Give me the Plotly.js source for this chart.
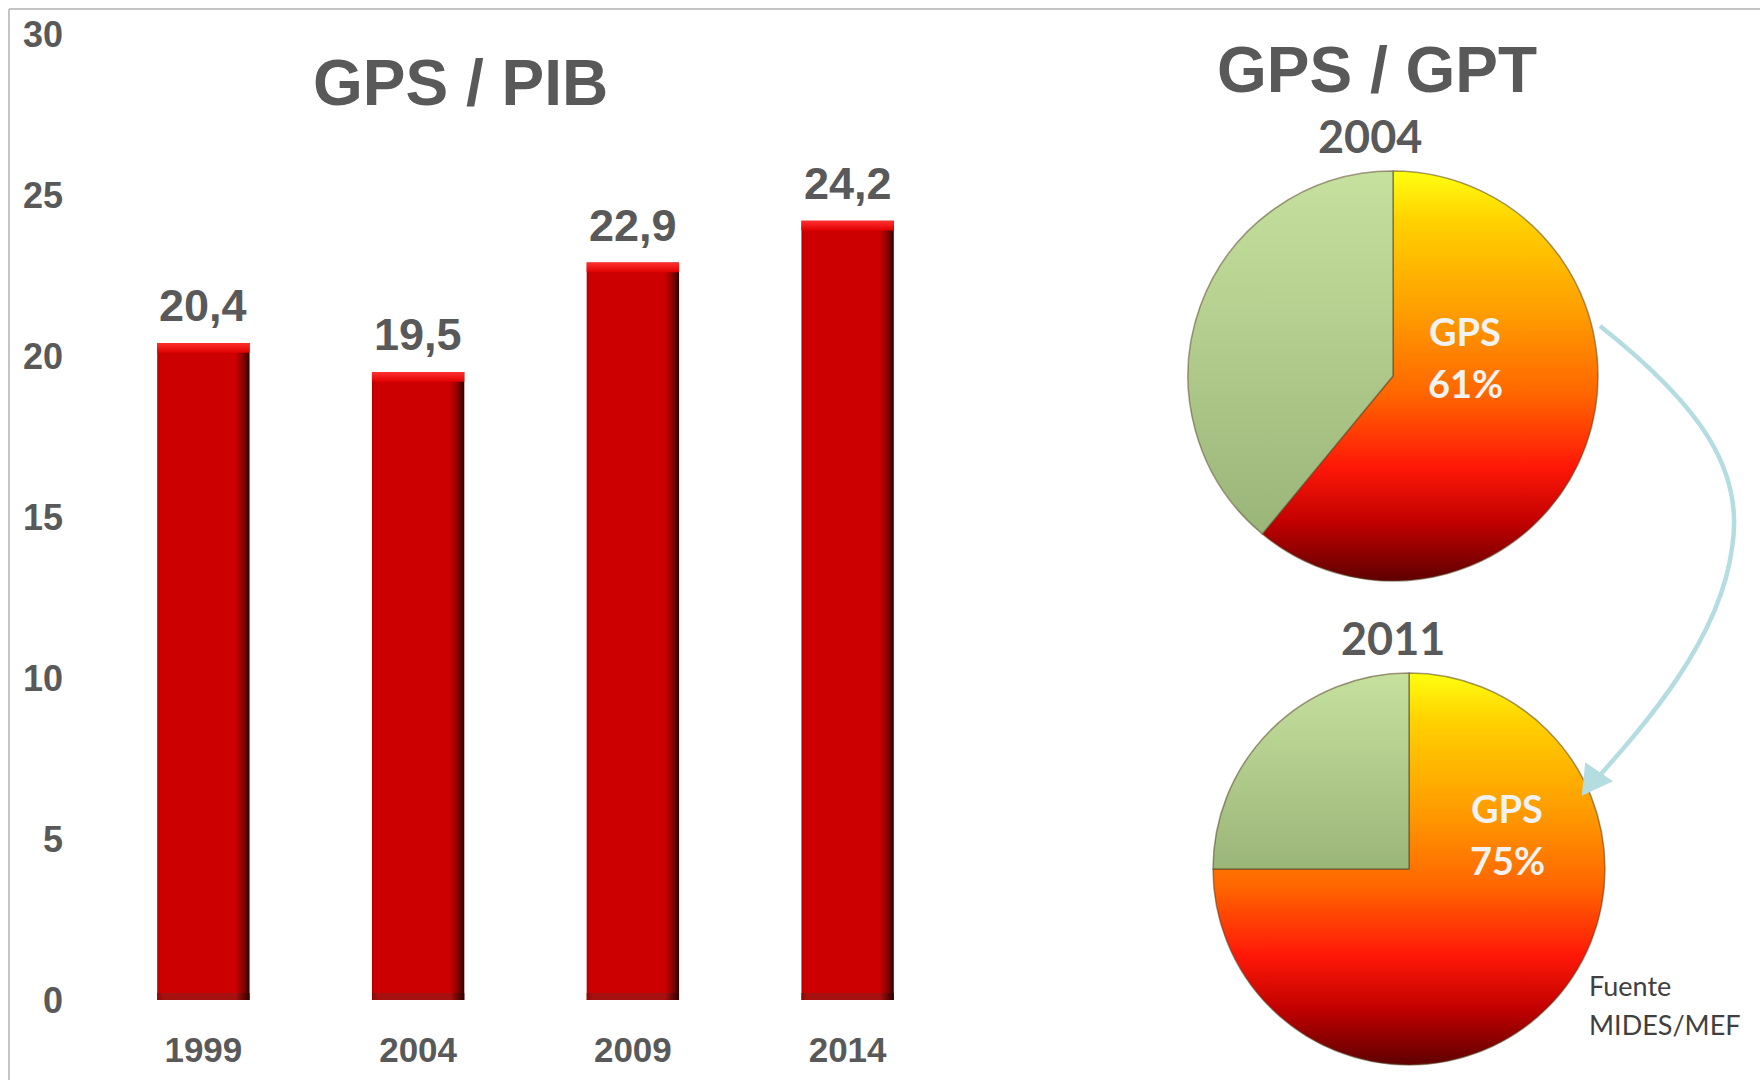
<!DOCTYPE html>
<html>
<head>
<meta charset="utf-8">
<script src="https://cdn.plot.ly/plotly-3.0.1.min.js"></script>
<style>
  html, body { margin: 0; padding: 0; background: #ffffff; }
  #chart { width: 1760px; height: 1080px; }
</style>
</head>
<body>
<div id="chart"></div>
<script>
// ---------- DATA ----------
const years = ['1999', '2004', '2009', '2014'];
const gpsPib = [20.4, 19.5, 22.9, 24.2];
const yTicks = [0, 5, 10, 15, 20, 25, 30];

const pieYears = ['2004', '2011'];
const pieLabels = ['GPS', 'Resto GPT'];
const gpt2004 = [61, 39];
const gpt2011 = [75, 25];

const titleLeft = 'GPS / PIB';
const titleRight = 'GPS / GPT';
const sourceLines = ['Fuente', 'MIDES/MEF'];

// ---------- helpers (pixel -> paper) ----------
const W = 1760, H = 1080;
const px = x => x / W;
const py = y => 1 - y / H;

const GREY = '#595959';
const ARIAL = 'Liberation Sans, Arial, sans-serif';
const CALIBRI = 'Lato, Open Sans, sans-serif';

const CAP = 0.3;    // height of the bevel cap on top of each bar (axis units)
const FOOT = 0.22;  // height of the darker foot of each bar

const barW = 0.43;

const data = [
  {
    type: 'bar', x: years, y: gpsPib, width: barW,
    marker: { color: '#cc0000', line: { width: 0 } },
    hoverinfo: 'skip', showlegend: false
  },
  {
    type: 'bar', x: years, y: years.map(() => FOOT), base: 0, width: barW,
    marker: { color: '#a30808', line: { width: 0 } },
    hoverinfo: 'skip', showlegend: false
  },
  {
    type: 'bar', x: years, y: gpsPib.map(() => CAP), base: gpsPib.map(v => v - CAP), width: barW,
    marker: { color: '#f51414', line: { width: 0 } },
    hoverinfo: 'skip', showlegend: false
  },
  {
    type: 'pie', values: gpt2004, labels: pieLabels, sort: false,
    direction: 'clockwise', rotation: 0, textinfo: 'none', hoverinfo: 'skip',
    marker: { colors: ['#ff8c00', '#b5cf8c'], line: { color: 'rgba(90,70,40,0.55)', width: 1.5 } },
    domain: { x: [px(1188), px(1598)], y: [py(581), py(171)] },
    showlegend: false
  },
  {
    type: 'pie', values: gpt2011, labels: pieLabels, sort: false,
    direction: 'clockwise', rotation: 0, textinfo: 'none', hoverinfo: 'skip',
    marker: { colors: ['#ff8c00', '#b5cf8c'], line: { color: 'rgba(90,70,40,0.55)', width: 1.5 } },
    domain: { x: [px(1213), px(1605)], y: [py(1065), py(673)] },
    showlegend: false
  }
];

const annotations = [];
// bar value labels (x given as category index)
years.forEach((yr, i) => {
  annotations.push({
    xref: 'x', yref: 'y', x: i, y: gpsPib[i],
    text: gpsPib[i].toFixed(1).replace('.', ','),
    showarrow: false, xanchor: 'center', yanchor: 'bottom', yshift: 10,
    font: { family: ARIAL, size: 45, color: GREY, weight: 700 }
  });
});
// titles
annotations.push({
  xref: 'paper', yref: 'paper', x: px(460), y: py(83), text: titleLeft,
  showarrow: false, xanchor: 'center', yanchor: 'middle',
  font: { family: ARIAL, size: 64, color: GREY, weight: 700 }
});
annotations.push({
  xref: 'paper', yref: 'paper', x: px(1377), y: py(70), text: titleRight,
  showarrow: false, xanchor: 'center', yanchor: 'middle',
  font: { family: ARIAL, size: 64, color: GREY, weight: 700 }
});
// pie year titles
annotations.push({
  xref: 'paper', yref: 'paper', x: px(1370), y: py(136), text: pieYears[0],
  showarrow: false, xanchor: 'center', yanchor: 'middle',
  font: { family: CALIBRI, size: 45, color: GREY, weight: 700 }
});
annotations.push({
  xref: 'paper', yref: 'paper', x: px(1393), y: py(638), text: pieYears[1],
  showarrow: false, xanchor: 'center', yanchor: 'middle',
  font: { family: CALIBRI, size: 45, color: GREY, weight: 700 }
});
// pie slice labels
const pieLabelPos = [[1465, 331, 383], [1507, 808, 860]];
[gpt2004, gpt2011].forEach((vals, k) => {
  const p = pieLabelPos[k];
  annotations.push({
    xref: 'paper', yref: 'paper', x: px(p[0]), y: py(p[1]), text: pieLabels[0],
    showarrow: false, xanchor: 'center', yanchor: 'middle',
    font: { family: CALIBRI, size: 38, color: '#f2f2f2', weight: 700 }
  });
  annotations.push({
    xref: 'paper', yref: 'paper', x: px(p[0]), y: py(p[2]), text: vals[0] + '%',
    showarrow: false, xanchor: 'center', yanchor: 'middle',
    font: { family: CALIBRI, size: 38, color: '#f2f2f2', weight: 700 }
  });
});
// source
annotations.push({
  xref: 'paper', yref: 'paper', x: px(1587), y: py(985), text: sourceLines[0],
  showarrow: false, xanchor: 'left', yanchor: 'middle',
  font: { family: CALIBRI, size: 27, color: '#404040' }
});
annotations.push({
  xref: 'paper', yref: 'paper', x: px(1587), y: py(1024), text: sourceLines[1],
  showarrow: false, xanchor: 'left', yanchor: 'middle',
  font: { family: CALIBRI, size: 27, color: '#404040' }
});

// curved arrow (decoration)
function P(x, y) { return px(x).toFixed(5) + ',' + py(y).toFixed(5); }
const arrowPath = 'M ' + P(1600, 326) +
  ' C ' + P(1700, 405) + ' ' + P(1745, 470) + ' ' + P(1732, 548) +
  ' C ' + P(1720, 640) + ' ' + P(1645, 725) + ' ' + P(1592, 784);
const headPath = 'M ' + P(1583, 794) + ' L ' + P(1586, 764) + ' L ' + P(1611, 781) + ' Z';

const layout = {
  width: W, height: H,
  margin: { l: 0, r: 0, t: 0, b: 0 },
  paper_bgcolor: '#ffffff', plot_bgcolor: 'rgba(0,0,0,0)',
  barmode: 'overlay',
  separators: ',.',
  showlegend: false,
  xaxis: {
    domain: [px(96), px(955)], type: 'category', categoryorder: 'array', categoryarray: years,
    range: [-0.5, years.length - 0.5], autorange: false,
    showgrid: false, zeroline: false, showline: false, ticks: '',
    tickfont: { family: ARIAL, size: 35, color: GREY, weight: 700 },
    ticklabelstandoff: 26, automargin: false, fixedrange: true
  },
  yaxis: {
    domain: [py(1000), py(34)], range: [0, 30], autorange: false, tickvals: yTicks,
    showgrid: false, zeroline: false, showline: false, ticks: '',
    tickfont: { family: ARIAL, size: 36, color: GREY, weight: 700 },
    ticklabelstandoff: 32, automargin: false, fixedrange: true
  },
  annotations: annotations,
  shapes: [
    { type: 'line', xref: 'paper', yref: 'paper', x0: px(9), x1: 1, y0: py(9), y1: py(9),
      line: { color: '#c4c4c4', width: 2 } },
    { type: 'line', xref: 'paper', yref: 'paper', x0: px(9), x1: px(9), y0: 0, y1: py(9),
      line: { color: '#c4c4c4', width: 2 } },
    { type: 'path', xref: 'paper', yref: 'paper', path: arrowPath,
      line: { color: '#b5dde1', width: 4.5 } },
    { type: 'path', xref: 'paper', yref: 'paper', path: headPath,
      fillcolor: '#b5dde1', line: { color: '#b5dde1', width: 2 } }
  ]
};

const gd = document.getElementById('chart');
Plotly.newPlot(gd, data, layout, { staticPlot: true, displayModeBar: false }).then(() => {
  const ns = 'http://www.w3.org/2000/svg';
  const svg = gd.querySelector('svg.main-svg');
  let defs = svg.querySelector('defs');
  if (!defs) { defs = document.createElementNS(ns, 'defs'); svg.insertBefore(defs, svg.firstChild); }
  function grad(id, horizontal, stops) {
    const g = document.createElementNS(ns, 'linearGradient');
    g.setAttribute('id', id);
    g.setAttribute('x1', '0'); g.setAttribute('y1', '0');
    g.setAttribute('x2', horizontal ? '1' : '0'); g.setAttribute('y2', horizontal ? '0' : '1');
    stops.forEach(s => {
      const st = document.createElementNS(ns, 'stop');
      st.setAttribute('offset', s[0]);
      st.setAttribute('stop-color', s[1]);
      g.appendChild(st);
    });
    defs.appendChild(g);
  }
  grad('gBar', true, [[0, '#b00000'], [0.03, '#cc0000'], [0.84, '#cc0000'], [0.92, '#960000'], [1, '#2e0000']]);
  grad('gFoot', true, [[0, '#8a0808'], [0.06, '#a51010'], [0.85, '#a51010'], [1, '#2e0000']]);
  grad('gCap', false, [[0, '#ff3030'], [1, '#e00000']]);
  grad('gOr', false, [[0, '#ffff10'], [0.12, '#ffd200'], [0.35, '#ff9c00'], [0.55, '#ff6400'], [0.72, '#ff1808'], [0.86, '#c00000'], [1, '#5e0000']]);
  grad('gGr', false, [[0, '#c6e19e'], [1, '#9ab578']]);

  const barTraces = gd.querySelectorAll('.barlayer .trace');
  const barFills = ['url(#gBar)', 'url(#gFoot)', 'url(#gCap)'];
  barTraces.forEach((t, i) => {
    t.querySelectorAll('path').forEach(p => { p.style.fill = barFills[i] || p.style.fill; });
  });
  gd.querySelectorAll('.pielayer .trace').forEach(t => {
    t.querySelectorAll('g.slice path.surface').forEach((p, si) => {
      p.style.fill = si === 0 ? 'url(#gOr)' : 'url(#gGr)';
    });
  });
});
</script>
</body>
</html>
